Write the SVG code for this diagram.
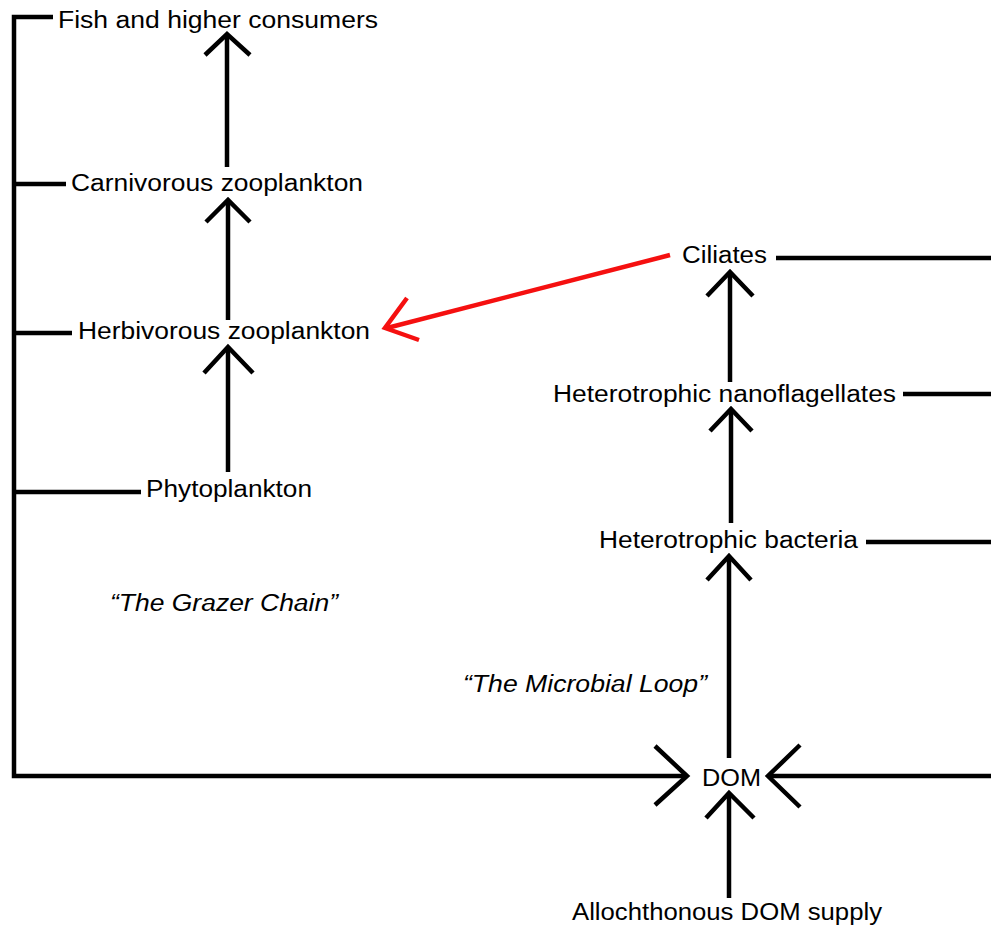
<svg xmlns="http://www.w3.org/2000/svg" width="991" height="926" viewBox="0 0 991 926">
<style>
  .ln { stroke:#000; stroke-width:4.5; fill:none; }
  .hd { stroke:#000; stroke-width:4.5; fill:none; stroke-linejoin:miter; }
  .red { stroke:#f51010; stroke-width:4.5; fill:none; }
  .t { font-family:"Liberation Sans", Arial, sans-serif; font-size:23px; fill:#000; }
  .it { font-style:italic; }
</style>
<rect width="991" height="926" fill="#fff"/>
<g id="connectors">
  <polyline class="ln" points="53,17 14,17 14,776 687,776"/>
  <line class="ln" x1="14" y1="184" x2="66" y2="184"/>
  <line class="ln" x1="14" y1="333" x2="72" y2="333"/>
  <line class="ln" x1="14" y1="492" x2="141" y2="492"/>
  <line class="ln" x1="227" y1="36" x2="227" y2="167"/>
  <polyline class="hd" points="205,55 227,34 250,55"/>
  <line class="ln" x1="228" y1="202" x2="228" y2="320"/>
  <polyline class="hd" points="206,222 228,200 250,222"/>
  <line class="ln" x1="228" y1="349" x2="228" y2="472"/>
  <polyline class="hd" points="204,373 228,347 253,373"/>
  <line class="red" x1="670" y1="255" x2="387" y2="328"/>
  <polyline class="red" points="407,298 385,328 419,340"/>
  <line class="ln" x1="730" y1="274" x2="730" y2="382"/>
  <polyline class="hd" points="707,296 730,272 753,296"/>
  <line class="ln" x1="731" y1="411" x2="731" y2="523"/>
  <polyline class="hd" points="710,431 731,409 752,431"/>
  <line class="ln" x1="729" y1="558" x2="729" y2="758"/>
  <polyline class="hd" points="707,580 729,556 751,580"/>
  <line class="ln" x1="776" y1="258" x2="991" y2="258"/>
  <line class="ln" x1="903" y1="394" x2="991" y2="394"/>
  <line class="ln" x1="866" y1="542" x2="991" y2="542"/>
  <line class="ln" x1="770" y1="776" x2="991" y2="776"/>
  <polyline class="hd" points="655,746 687,776 655,805"/>
  <polyline class="hd" points="800,745 768,776 800,807"/>
  <line class="ln" x1="729" y1="795" x2="729" y2="898"/>
  <polyline class="hd" points="706,818 729,793 754,818"/>
</g>
<g id="fish"><text class="t" x="58" y="28" textLength="320" lengthAdjust="spacingAndGlyphs">Fish and higher consumers</text></g>
<g id="carnivorous"><text class="t" x="71" y="191" textLength="292" lengthAdjust="spacingAndGlyphs">Carnivorous zooplankton</text></g>
<g id="herbivorous"><text class="t" x="78" y="339" textLength="292" lengthAdjust="spacingAndGlyphs">Herbivorous zooplankton</text></g>
<g id="phytoplankton"><text class="t" x="146" y="497" textLength="166" lengthAdjust="spacingAndGlyphs">Phytoplankton</text></g>
<g id="ciliates"><text class="t" x="682" y="263" textLength="85" lengthAdjust="spacingAndGlyphs">Ciliates</text></g>
<g id="nanoflagellates"><text class="t" x="553" y="402" textLength="343" lengthAdjust="spacingAndGlyphs">Heterotrophic nanoflagellates</text></g>
<g id="bacteria"><text class="t" x="599" y="548" textLength="259" lengthAdjust="spacingAndGlyphs">Heterotrophic bacteria</text></g>
<g id="dom"><text class="t" x="702" y="786" textLength="59" lengthAdjust="spacingAndGlyphs" style="font-size:24px">DOM</text></g>
<g id="allochthonous"><text class="t" x="572" y="920" textLength="310" lengthAdjust="spacingAndGlyphs">Allochthonous DOM supply</text></g>
<g id="grazer-label"><text class="t it" x="110" y="611" textLength="228" lengthAdjust="spacingAndGlyphs">“The Grazer Chain”</text></g>
<g id="microbial-label"><text class="t it" x="463" y="692" textLength="244" lengthAdjust="spacingAndGlyphs">“The Microbial Loop”</text></g>
</svg>
